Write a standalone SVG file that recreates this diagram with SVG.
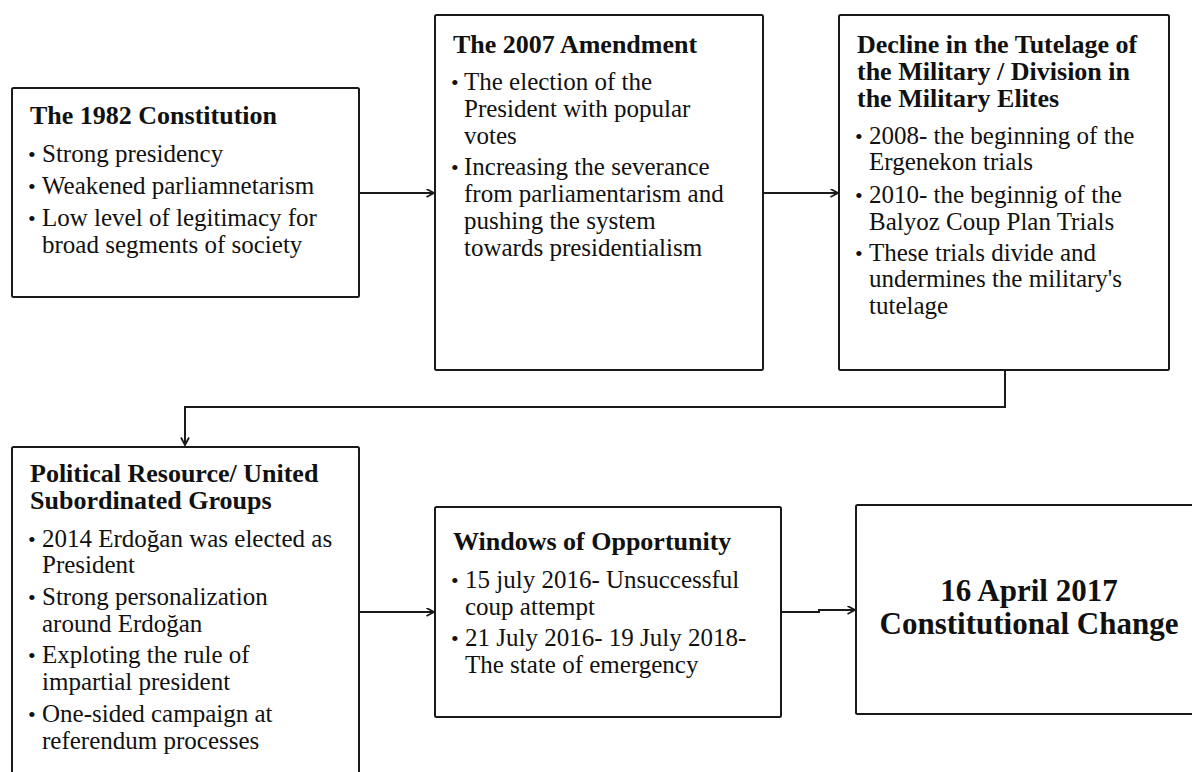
<svg xmlns="http://www.w3.org/2000/svg" width="1192" height="772" viewBox="0 0 1192 772">
  <style>
    .box { fill: #ffffff; stroke: #1a1a1a; stroke-width: 2; }
    .title { font-family: "Liberation Serif", "DejaVu Serif", serif; font-weight: bold; font-size: 26px; fill: #111111; }
    .body { font-family: "Liberation Serif", "DejaVu Serif", serif; font-size: 25px; fill: #111111; }
    .dot { font-family: "Liberation Serif", "DejaVu Serif", serif; font-size: 22px; fill: #111111; }
    .big { font-family: "Liberation Serif", "DejaVu Serif", serif; font-weight: bold; font-size: 31px; fill: #111111; text-anchor: middle; }
    .conn { fill: none; stroke: #1a1a1a; stroke-width: 2; }
  </style>
  <defs>
    <marker id="arrow" markerUnits="userSpaceOnUse" markerWidth="12" markerHeight="12" refX="8" refY="4.5" orient="auto">
      <path d="M0.5,0.5 L8,4.5 L0.5,8.5" fill="none" stroke="#1a1a1a" stroke-width="1.8"/>
    </marker>
  </defs>
  <rect width="1192" height="772" fill="#ffffff"/>

  <g id="connectors">
    <path class="conn" d="M359,193 H434" marker-end="url(#arrow)"/>
    <path class="conn" d="M763,193 H838" marker-end="url(#arrow)"/>
    <path class="conn" d="M1005,370 V407 H185 V445" marker-end="url(#arrow)"/>
    <path class="conn" d="M359,612 H434" marker-end="url(#arrow)"/>
    <path class="conn" d="M781,612 H819 V610 H855" marker-end="url(#arrow)"/>
  </g>

  <g id="node-1982">
    <rect class="box" x="12" y="88" width="347" height="209" rx="1.5"/>
    <text class="title" x="30" y="124">The 1982 Constitution</text>
    <text class="dot" x="28" y="162">•</text>
    <text class="body" x="42" y="162">Strong presidency</text>
    <text class="dot" x="28" y="194">•</text>
    <text class="body" x="42" y="194">Weakened parliamnetarism</text>
    <text class="dot" x="28" y="226">•</text>
    <text class="body" x="42" y="226">Low level of legitimacy for</text>
    <text class="body" x="42" y="253">broad segments of society</text>
  </g>

  <g id="node-2007">
    <rect class="box" x="435" y="15" width="328" height="355" rx="1.5"/>
    <text class="title" x="453" y="53">The 2007 Amendment</text>
    <text class="dot" x="451" y="90">•</text>
    <text class="body" x="464" y="90">The election of the</text>
    <text class="body" x="464" y="117">President with popular</text>
    <text class="body" x="464" y="144">votes</text>
    <text class="dot" x="451" y="175">•</text>
    <text class="body" x="464" y="175">Increasing the severance</text>
    <text class="body" x="464" y="202">from parliamentarism and</text>
    <text class="body" x="464" y="229">pushing the system</text>
    <text class="body" x="464" y="256">towards presidentialism</text>
  </g>

  <g id="node-military">
    <rect class="box" x="839" y="15" width="330" height="355" rx="1.5"/>
    <text class="title" x="857" y="53">Decline in the Tutelage of</text>
    <text class="title" x="857" y="80">the Military / Division in</text>
    <text class="title" x="857" y="107">the Military Elites</text>
    <text class="dot" x="855" y="144">•</text>
    <text class="body" x="869" y="144">2008- the beginning of the</text>
    <text class="body" x="869" y="170">Ergenekon trials</text>
    <text class="dot" x="855" y="203">•</text>
    <text class="body" x="869" y="203">2010- the beginnig of the</text>
    <text class="body" x="869" y="230">Balyoz Coup Plan Trials</text>
    <text class="dot" x="855" y="261">•</text>
    <text class="body" x="869" y="261">These trials divide and</text>
    <text class="body" x="869" y="287">undermines the military's</text>
    <text class="body" x="869" y="314">tutelage</text>
  </g>

  <g id="node-political">
    <rect class="box" x="12" y="447" width="347" height="360" rx="1.5"/>
    <text class="title" x="30" y="482">Political Resource/ United</text>
    <text class="title" x="30" y="509">Subordinated Groups</text>
    <text class="dot" x="28" y="547">•</text>
    <text class="body" x="42" y="547">2014 Erdoğan was elected as</text>
    <text class="body" x="42" y="573">President</text>
    <text class="dot" x="28" y="605">•</text>
    <text class="body" x="42" y="605">Strong personalization</text>
    <text class="body" x="42" y="632">around Erdoğan</text>
    <text class="dot" x="28" y="663">•</text>
    <text class="body" x="42" y="663">Exploting the rule of</text>
    <text class="body" x="42" y="690">impartial president</text>
    <text class="dot" x="28" y="722">•</text>
    <text class="body" x="42" y="722">One-sided campaign at</text>
    <text class="body" x="42" y="749">referendum processes</text>
  </g>

  <g id="node-windows">
    <rect class="box" x="435" y="507" width="346" height="210" rx="1.5"/>
    <text class="title" x="453" y="550">Windows of Opportunity</text>
    <text class="dot" x="451" y="588">•</text>
    <text class="body" x="465" y="588">15 july 2016- Unsuccessful</text>
    <text class="body" x="465" y="615">coup attempt</text>
    <text class="dot" x="451" y="646">•</text>
    <text class="body" x="465" y="646">21 July 2016- 19 July 2018-</text>
    <text class="body" x="465" y="673">The state of emergency</text>
  </g>

  <g id="node-2017">
    <rect class="box" x="856" y="505" width="346" height="209" rx="1.5"/>
    <text class="big" x="1029" y="601">16 April 2017</text>
    <text class="big" x="1029" y="634">Constitutional Change</text>
  </g>
</svg>
